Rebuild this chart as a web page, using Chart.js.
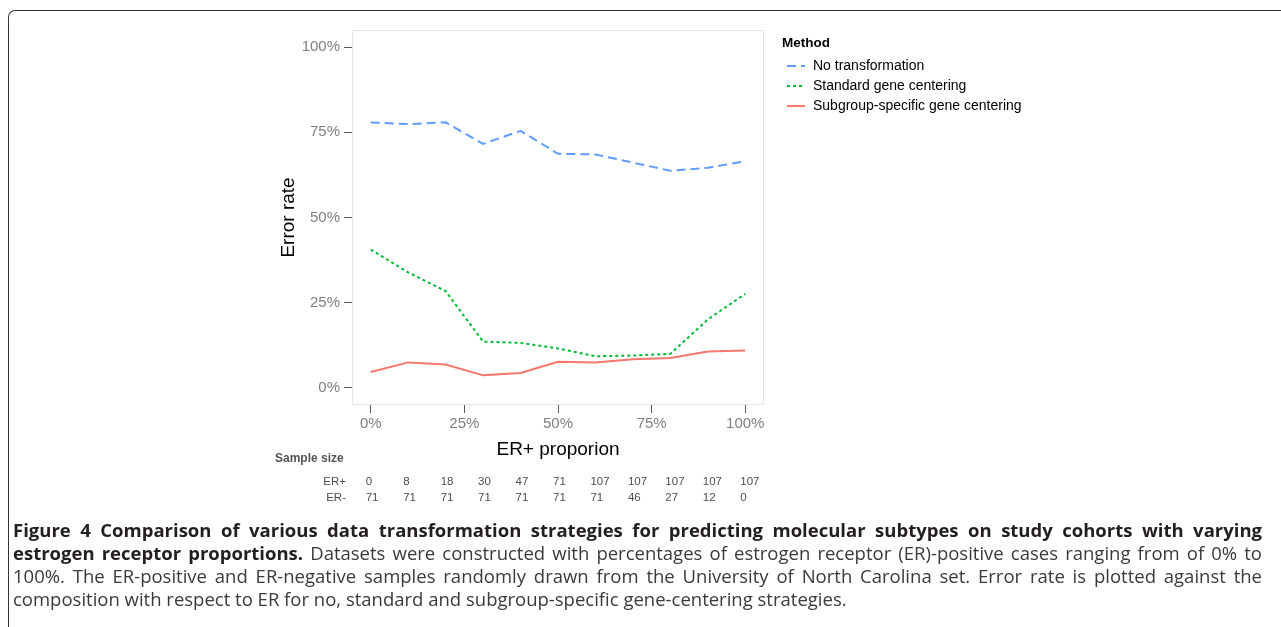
<!DOCTYPE html>
<html>
<head>
<meta charset="utf-8">
<script src="https://cdn.jsdelivr.net/npm/chart.js@4.4.1/dist/chart.umd.min.js"></script>
<style>
  html, body { margin: 0; padding: 0; background: #fff; }
  body { width: 1281px; height: 627px; position: relative; overflow: hidden; }
  #wrap { position: absolute; left: 0; top: 0; width: 1281px; height: 627px; }
  #frame { position: absolute; left: 8px; top: 10px; width: 1320px; height: 660px;
           border-top: 1.5px solid #333; border-left: 1.5px solid #333; border-top-left-radius: 7px; }
  #caption { position: absolute; left: 13px; top: 518px; width: 1249px;
             font-family: "Open Sans", sans-serif; font-size: 18.5px; line-height: 23px; color: #3a3a3a; }
  .ln { white-space: nowrap; text-align: justify; text-align-last: justify; }
  .ln.last { text-align-last: left; }
  .ln b { color: #231f20; }
</style>
</head>
<body>
<div id="frame"></div>
<div id="wrap"><canvas id="chart"></canvas></div>
<div id="caption">
  <div class="ln"><span><b>Figure 4 Comparison of various data transformation strategies for predicting molecular subtypes on study cohorts with varying</b></span></div>
  <div class="ln"><span><b>estrogen receptor proportions.</b> Datasets were constructed with percentages of estrogen receptor (ER)-positive cases ranging from of 0% to</span></div>
  <div class="ln"><span>100%. The ER-positive and ER-negative samples randomly drawn from the University of North Carolina set. Error rate is plotted against the</span></div>
  <div class="ln last"><span>composition with respect to ER for no, standard and subgroup-specific gene-centering strategies.</span></div>
</div>
<script>
// ER+ proportion (%) for each dataset
const proportions = [0, 10, 20, 30, 40, 50, 60, 70, 80, 90, 100];

// error rate (%) per method
const noTransformation = [77.9, 77.4, 77.9, 71.6, 75.4, 68.7, 68.5, 66.1, 63.7, 64.6, 66.5];
const standardCentering = [40.6, 33.9, 28.4, 13.6, 13.2, 11.6, 9.3, 9.5, 10.0, 20.1, 27.6];
const subgroupCentering = [4.7, 7.5, 6.9, 3.7, 4.4, 7.7, 7.5, 8.4, 8.8, 10.7, 11.0];

const methodNames = ['No transformation', 'Standard gene centering', 'Subgroup-specific gene centering'];

// sample sizes under the plot
const erPos = [0, 8, 18, 30, 47, 71, 107, 107, 107, 107, 107];
const erNeg = [71, 71, 71, 71, 71, 71, 71, 46, 27, 12, 0];

const xTicks = [0, 25, 50, 75, 100];
const yTicks = [0, 25, 50, 75, 100];

const FONT = '"Liberation Sans", Arial, sans-serif';

// squeeze caption lines that are wider than the column
document.querySelectorAll('#caption .ln').forEach(ln => {
  const span = ln.querySelector('span');
  const w = span.getBoundingClientRect().width;
  const n = span.textContent.length;
  if (w > 1249) span.style.letterSpacing = ((1249 - w) / n - 0.05) + 'px';
});

function pts(vals) {
  return proportions.map((p, i) => ({ x: p, y: vals[i] }));
}

// light grey panel border
const panelBox = {
  id: 'panelBox',
  beforeDatasetsDraw(chart) {
    const { ctx, chartArea: a } = chart;
    ctx.save();
    ctx.strokeStyle = '#e5e5e5';
    ctx.lineWidth = 1;
    ctx.strokeRect(a.left + 0.5, a.top + 0.5, a.right - a.left - 1, a.bottom - a.top - 1);
    ctx.restore();
  }
};

// legend on the right + sample size table below
const extras = {
  id: 'extras',
  afterDraw(chart) {
    const ctx = chart.ctx;
    ctx.save();
    ctx.fillStyle = '#000';
    ctx.font = 'bold 13.5px ' + FONT;
    ctx.textBaseline = 'alphabetic';
    ctx.fillText('Method', 782, 47);

    chart.data.datasets.forEach((ds, i) => {
      const y = 66 + i * 20;
      ctx.strokeStyle = ds.borderColor;
      ctx.lineWidth = ds.borderWidth;
      ctx.setLineDash(ds.borderDash || []);
      ctx.beginPath();
      ctx.moveTo(787, y);
      ctx.lineTo(805, y);
      ctx.stroke();
      ctx.setLineDash([]);
      ctx.fillStyle = '#000';
      ctx.font = '14px ' + FONT;
      ctx.textBaseline = 'middle';
      ctx.fillText(ds.label, 813, y);
    });

    const xs = chart.scales.x;
    ctx.fillStyle = '#555';
    ctx.font = 'bold 12px ' + FONT;
    ctx.textBaseline = 'middle';
    ctx.textAlign = 'left';
    ctx.fillText('Sample size', 275, 459);

    ctx.font = '11.5px ' + FONT;
    ctx.fillStyle = '#4d4d4d';
    ctx.textAlign = 'right';
    ctx.fillText('ER+', 346, 482);
    ctx.fillText('ER-', 346, 498);
    ctx.textAlign = 'left';
    proportions.forEach((p, i) => {
      const px = xs.getPixelForValue(p) - 5;
      ctx.fillText(String(erPos[i]), px, 482);
      ctx.fillText(String(erNeg[i]), px, 498);
    });
    ctx.restore();
  }
};

new Chart(document.getElementById('chart'), {
  type: 'line',
  data: {
    datasets: [
      { label: methodNames[0], data: pts(noTransformation), borderColor: '#619CFF',
        borderDash: [9, 5], borderWidth: 2, pointRadius: 0, fill: false },
      { label: methodNames[1], data: pts(standardCentering), borderColor: '#00BA38',
        borderDash: [3, 3], borderWidth: 2, pointRadius: 0, fill: false },
      { label: methodNames[2], data: pts(subgroupCentering), borderColor: '#F8766D',
        borderWidth: 2, pointRadius: 0, fill: false }
    ]
  },
  options: {
    responsive: true,
    maintainAspectRatio: false,
    animation: false,
    layout: { padding: { left: 270, top: 30, right: 517, bottom: 162 } },
    plugins: { legend: { display: false }, tooltip: { enabled: false } },
    scales: {
      x: {
        type: 'linear', min: -5, max: 105,
        afterBuildTicks: s => { s.ticks = xTicks.map(v => ({ value: v })); },
        afterFit: s => { s.height = 60; },
        border: { display: false },
        grid: { drawOnChartArea: false, drawTicks: true, tickLength: 8, color: '#5a5a5a' },
        ticks: { callback: v => v + '%', color: '#7f7f7f', padding: 2, maxRotation: 0,
                 font: { family: FONT, size: 15 } },
        title: { display: true, text: 'ER+ proporion', color: '#000',
                 font: { family: FONT, size: 19 }, padding: { top: 0, bottom: 4 } }
      },
      y: {
        type: 'linear', min: -5, max: 105,
        afterBuildTicks: s => { s.ticks = yTicks.map(v => ({ value: v })); },
        afterFit: s => { s.width = 82; },
        border: { display: false },
        grid: { drawOnChartArea: false, drawTicks: true, tickLength: 8, color: '#5a5a5a' },
        ticks: { callback: v => v + '%', color: '#7f7f7f', padding: 4,
                 font: { family: FONT, size: 15 } },
        title: { display: true, text: 'Error rate', color: '#000',
                 font: { family: FONT, size: 19 }, padding: { top: 7, bottom: 0 } }
      }
    }
  },
  plugins: [panelBox, extras]
});
</script>
</body>
</html>
